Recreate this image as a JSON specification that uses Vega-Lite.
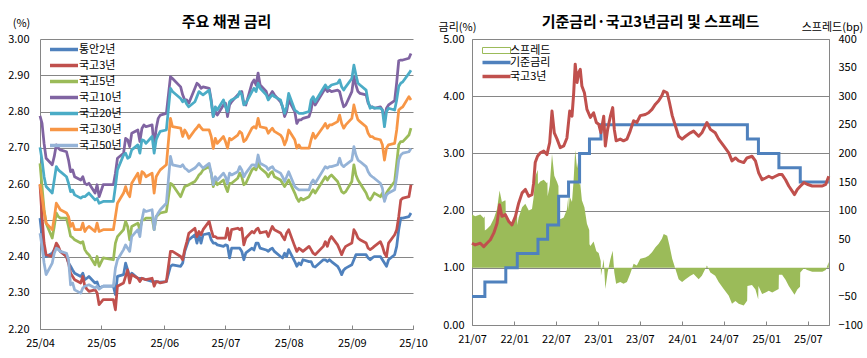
{
"$schema":"https://vega.github.io/schema/vega-lite/v6.json",
"background":"white",
"padding":{"left":7,"top":14,"right":1,"bottom":1},
"spacing":9,
"config":{
 "font":"Noto Sans CJK KR",
 "view":{"stroke":null},
 "axis":{"labelFont":"Noto Sans CJK KR","labelFontSize":11,"labelColor":"#000","domainColor":"#868686","gridColor":"#868686","tickColor":"#868686","titleFont":"Noto Sans CJK KR","titleFontSize":11,"titleFontWeight":"normal","titleColor":"#000"},
 "title":{"font":"Noto Sans CJK KR","fontSize":15,"fontWeight":"bold","color":"#000","anchor":"middle","frame":"group"},
 "legend":{"labelFont":"Noto Sans CJK KR","labelFontSize":11,"labelColor":"#000"}
},
"datasets":{
"rates":[
{"d":"2025-04-01","통안2년":2.506,"국고3년":2.598,"국고5년":2.657,"국고10년":2.788,"국고20년":2.701,"국고30년":2.600,"국고50년":2.464},
{"d":"2025-04-02","통안2년":2.455,"국고3년":2.51,"국고5년":2.593,"국고10년":2.767,"국고20년":2.666,"국고30년":2.565,"국고50년":2.428},
{"d":"2025-04-03","통안2년":2.419,"국고3년":2.437,"국고5년":2.529,"국고10년":2.712,"국고20년":2.62,"국고30년":2.524,"국고50년":2.382},
{"d":"2025-04-04","통안2년":2.40,"국고3년":2.405,"국고5년":2.492,"국고10년":2.671,"국고20년":2.593,"국고30년":2.492,"국고50년":2.35},
{"d":"2025-04-07","통안2년":2.409,"국고3년":2.40,"국고5년":2.451,"국고10년":2.653,"국고20년":2.575,"국고30년":2.474,"국고50년":2.382},
{"d":"2025-04-08","통안2년":2.419,"국고3년":2.419,"국고5년":2.483,"국고10년":2.676,"국고20년":2.611,"국고30년":2.506,"국고50년":2.409},
{"d":"2025-04-09","통안2년":2.428,"국고3년":2.437,"국고5년":2.52,"국고10년":2.708,"국고20년":2.648,"국고30년":2.547,"국고50년":2.423},
{"d":"2025-04-10","통안2년":2.42,"국고3년":2.428,"국고5년":2.51,"국고10년":2.699,"국고20년":2.639,"국고30년":2.538,"국고50년":2.42},
{"d":"2025-04-11","통안2년":2.414,"국고3년":2.414,"국고5년":2.506,"국고10년":2.694,"국고20년":2.634,"국고30년":2.529,"국고50년":2.414},
{"d":"2025-04-14","통안2년":2.40,"국고3년":2.40,"국고5년":2.506,"국고10년":2.689,"국고20년":2.62,"국고30년":2.52,"국고50년":2.409},
{"d":"2025-04-15","통안2년":2.382,"국고3년":2.382,"국고5년":2.483,"국고10년":2.666,"국고20년":2.602,"국고30년":2.51,"국고50년":2.391},
{"d":"2025-04-16","통안2년":2.373,"국고3년":2.354,"국고5년":2.456,"국고10년":2.634,"국고20년":2.579,"국고30년":2.483,"국고50년":2.322},
{"d":"2025-04-17","통안2년":2.363,"국고3년":2.345,"국고5년":2.452,"국고10년":2.639,"국고20년":2.583,"국고30년":2.492,"국고50년":2.327},
{"d":"2025-04-18","통안2년":2.354,"국고3년":2.336,"국고5년":2.446,"국고10년":2.62,"국고20년":2.57,"국고30년":2.474,"국고50년":2.308},
{"d":"2025-04-21","통안2년":2.345,"국고3년":2.327,"국고5년":2.437,"국고10년":2.611,"국고20년":2.561,"국고30년":2.474,"국고50년":2.299},
{"d":"2025-04-22","통안2년":2.354,"국고3년":2.345,"국고5년":2.441,"국고10년":2.62,"국고20년":2.565,"국고30년":2.492,"국고50년":2.313},
{"d":"2025-04-23","통안2년":2.336,"국고3년":2.318,"국고5년":2.419,"국고10년":2.602,"국고20년":2.565,"국고30년":2.469,"국고50년":2.318},
{"d":"2025-04-24","통안2년":2.34,"국고3년":2.31,"국고5년":2.41,"국고10년":2.598,"국고20년":2.57,"국고30년":2.478,"국고50년":2.32},
{"d":"2025-04-25","통안2년":2.345,"국고3년":2.304,"국고5년":2.405,"국고10년":2.602,"국고20년":2.575,"국고30년":2.483,"국고50년":2.322},
{"d":"2025-04-28","통안2년":2.327,"국고3년":2.308,"국고5년":2.377,"국고10년":2.575,"국고20년":2.556,"국고30년":2.469,"국고50년":2.313},
{"d":"2025-04-29","통안2년":2.33,"국고3년":2.30,"국고5년":2.40,"국고10년":2.598,"국고20년":2.56,"국고30년":2.492,"국고50년":2.318},
{"d":"2025-04-30","통안2년":2.313,"국고3년":2.267,"국고5년":2.373,"국고10년":2.565,"국고20년":2.547,"국고30년":2.469,"국고50년":2.31},
{"d":"2025-05-02","통안2년":2.318,"국고3년":2.281,"국고5년":2.396,"국고10년":2.598,"국고20년":2.552,"국고30년":2.474,"국고50년":2.318},
{"d":"2025-05-07","통안2년":2.318,"국고3년":2.281,"국고5년":2.391,"국고10년":2.598,"국고20년":2.552,"국고30년":2.474,"국고50년":2.318},
{"d":"2025-05-08","통안2년":2.295,"국고3년":2.253,"국고5년":2.437,"국고10년":2.63,"국고20년":2.593,"국고30년":2.51,"국고50년":2.368},
{"d":"2025-05-09","통안2년":2.345,"국고3년":2.318,"국고5년":2.455,"국고10년":2.671,"국고20년":2.639,"국고30년":2.547,"국고50년":2.391},
{"d":"2025-05-12","통안2년":2.35,"국고3년":2.327,"국고5년":2.474,"국고10년":2.685,"국고20년":2.68,"국고30년":2.575,"국고50년":2.419},
{"d":"2025-05-13","통안2년":2.382,"국고3년":2.345,"국고5년":2.497,"국고10년":2.726,"국고20년":2.685,"국고30년":2.593,"국고50년":2.432},
{"d":"2025-05-14","통안2년":2.363,"국고3년":2.363,"국고5년":2.483,"국고10년":2.722,"국고20년":2.671,"국고30년":2.575,"국고50년":2.423},
{"d":"2025-05-15","통안2년":2.345,"국고3년":2.327,"국고5년":2.446,"국고10년":2.703,"국고20년":2.675,"국고30년":2.565,"국고50년":2.414},
{"d":"2025-05-16","통안2년":2.354,"국고3년":2.35,"국고5년":2.483,"국고10년":2.74,"국고20년":2.694,"국고30년":2.602,"국고50년":2.455},
{"d":"2025-05-19","통안2년":2.34,"국고3년":2.34,"국고5년":2.492,"국고10년":2.749,"국고20년":2.708,"국고30년":2.63,"국고50년":2.474},
{"d":"2025-05-20","통안2년":2.34,"국고3년":2.331,"국고5년":2.474,"국고10년":2.717,"국고20년":2.685,"국고30년":2.602,"국고50년":2.455},
{"d":"2025-05-21","통안2년":2.34,"국고3년":2.34,"국고5년":2.501,"국고10년":2.753,"국고20년":2.722,"국고30년":2.634,"국고50년":2.501},
{"d":"2025-05-22","통안2년":2.338,"국고3년":2.338,"국고5년":2.501,"국고10년":2.763,"국고20년":2.72,"국고30년":2.63,"국고50년":2.529},
{"d":"2025-05-23","통안2년":2.336,"국고3년":2.336,"국고5년":2.506,"국고10년":2.758,"국고20년":2.712,"국고30년":2.62,"국고50년":2.524},
{"d":"2025-05-26","통안2년":2.331,"국고3년":2.34,"국고5년":2.506,"국고10년":2.763,"국고20년":2.731,"국고30년":2.63,"국고50년":2.529},
{"d":"2025-05-27","통안2년":2.331,"국고3년":2.318,"국고5년":2.474,"국고10년":2.703,"국고20년":2.685,"국고30년":2.575,"국고50년":2.474},
{"d":"2025-05-28","통안2년":2.331,"국고3년":2.331,"국고5년":2.51,"국고10년":2.753,"국고20년":2.722,"국고30년":2.62,"국고50년":2.51},
{"d":"2025-05-29","통안2년":2.33,"국고3년":2.33,"국고5년":2.515,"국고10년":2.781,"국고20년":2.735,"국고30년":2.63,"국고50년":2.52},
{"d":"2025-05-30","통안2년":2.329,"국고3년":2.327,"국고5년":2.52,"국고10년":2.79,"국고20년":2.745,"국고30년":2.639,"국고50년":2.529},
{"d":"2025-06-02","통안2년":2.331,"국고3년":2.331,"국고5년":2.524,"국고10년":2.795,"국고20년":2.749,"국고30년":2.653,"국고50년":2.547},
{"d":"2025-06-04","통안2년":2.373,"국고3년":2.414,"국고5년":2.602,"국고10년":2.896,"국고20년":2.864,"국고30년":2.781,"국고50년":2.676},
{"d":"2025-06-05","통안2년":2.377,"국고3년":2.414,"국고5년":2.598,"국고10년":2.891,"국고20년":2.855,"국고30년":2.758,"국고50년":2.653},
{"d":"2025-06-09","통안2년":2.373,"국고3년":2.40,"국고5년":2.565,"국고10년":2.868,"국고20년":2.836,"국고30년":2.754,"국고50년":2.648},
{"d":"2025-06-10","통안2년":2.382,"국고3년":2.391,"국고5년":2.579,"국고10년":2.846,"국고20년":2.827,"국고30년":2.731,"국고50년":2.653},
{"d":"2025-06-11","통안2년":2.414,"국고3년":2.419,"국고5년":2.593,"국고10년":2.832,"국고20년":2.832,"국고30년":2.749,"국고50년":2.644},
{"d":"2025-06-12","통안2년":2.43,"국고3년":2.44,"국고5년":2.595,"국고10년":2.832,"국고20년":2.82,"국고30년":2.74,"국고50년":2.64},
{"d":"2025-06-13","통안2년":2.446,"국고3년":2.464,"국고5년":2.598,"국고10년":2.823,"국고20년":2.813,"국고30년":2.726,"국고50년":2.634},
{"d":"2025-06-16","통안2년":2.46,"국고3년":2.478,"국고5년":2.607,"국고10년":2.864,"국고20년":2.827,"국고30년":2.749,"국고50년":2.644},
{"d":"2025-06-17","통안2년":2.437,"국고3년":2.455,"국고5년":2.615,"국고10년":2.878,"국고20년":2.841,"국고30년":2.755,"국고50년":2.65},
{"d":"2025-06-18","통안2년":2.46,"국고3년":2.469,"국고5년":2.625,"국고10년":2.873,"국고20년":2.855,"국고30년":2.763,"국고50년":2.657},
{"d":"2025-06-19","통안2년":2.437,"국고3년":2.46,"국고5년":2.63,"국고10년":2.864,"국고20년":2.85,"국고30년":2.755,"국고50년":2.65},
{"d":"2025-06-20","통안2년":2.46,"국고3년":2.474,"국고5년":2.639,"국고10년":2.868,"국고20년":2.846,"국고30년":2.749,"국고50년":2.644},
{"d":"2025-06-23","통안2년":2.464,"국고3년":2.497,"국고5년":2.648,"국고10년":2.864,"국고20년":2.859,"국고30년":2.749,"국고50년":2.657},
{"d":"2025-06-24","통안2년":2.446,"국고3년":2.474,"국고5년":2.63,"국고10년":2.832,"국고20년":2.827,"국고30년":2.731,"국고50년":2.63},
{"d":"2025-06-25","통안2년":2.437,"국고3년":2.455,"국고5년":2.593,"국고10년":2.786,"국고20년":2.786,"국고30년":2.698,"국고50년":2.598},
{"d":"2025-06-26","통안2년":2.437,"국고3년":2.455,"국고5년":2.611,"국고10년":2.80,"국고20년":2.813,"국고30년":2.726,"국고50년":2.62},
{"d":"2025-06-27","통안2년":2.432,"국고3년":2.451,"국고5년":2.598,"국고10년":2.79,"국고20년":2.804,"국고30년":2.712,"국고50년":2.611},
{"d":"2025-06-30","통안2년":2.428,"국고3년":2.451,"국고5년":2.611,"국고10년":2.818,"국고20년":2.832,"국고30년":2.731,"국고50년":2.63},
{"d":"2025-07-01","통안2년":2.432,"국고3년":2.451,"국고5년":2.593,"국고10년":2.823,"국고20년":2.813,"국고30년":2.717,"국고50년":2.62},
{"d":"2025-07-02","통안2년":2.43,"국고3년":2.478,"국고5년":2.579,"국고10년":2.786,"국고20년":2.80,"국고30년":2.699,"국고50년":2.602},
{"d":"2025-07-03","통안2년":2.396,"국고3년":2.446,"국고5년":2.602,"국고10년":2.818,"국고20년":2.827,"국고30년":2.726,"국고50년":2.63},
{"d":"2025-07-04","통안2년":2.423,"국고3년":2.474,"국고5년":2.602,"국고10년":2.827,"국고20년":2.832,"국고30년":2.722,"국고50년":2.625},
{"d":"2025-07-07","통안2년":2.423,"국고3년":2.478,"국고5년":2.616,"국고10년":2.846,"국고20년":2.841,"국고30년":2.735,"국고50년":2.634},
{"d":"2025-07-08","통안2년":2.423,"국고3년":2.474,"국고5년":2.63,"국고10년":2.85,"국고20년":2.855,"국고30년":2.745,"국고50년":2.648},
{"d":"2025-07-09","통안2년":2.414,"국고3년":2.478,"국고5년":2.62,"국고10년":2.855,"국고20년":2.846,"국고30년":2.74,"국고50년":2.639},
{"d":"2025-07-10","통안2년":2.391,"국고3년":2.432,"국고5년":2.598,"국고10년":2.823,"국고20년":2.818,"국고30년":2.717,"국고50년":2.62},
{"d":"2025-07-11","통안2년":2.41,"국고3년":2.451,"국고5년":2.602,"국고10년":2.818,"국고20년":2.823,"국고30년":2.722,"국고50년":2.63},
{"d":"2025-07-14","통안2년":2.423,"국고3년":2.469,"국고5년":2.639,"국고10년":2.878,"국고20년":2.855,"국고30년":2.754,"국고50년":2.653},
{"d":"2025-07-15","통안2년":2.418,"국고3년":2.465,"국고5년":2.644,"국고10년":2.887,"국고20년":2.864,"국고30년":2.758,"국고50년":2.653},
{"d":"2025-07-16","통안2년":2.437,"국고3년":2.474,"국고5년":2.639,"국고10년":2.873,"국고20년":2.855,"국고30년":2.754,"국고50년":2.648},
{"d":"2025-07-17","통안2년":2.437,"국고3년":2.478,"국고5년":2.657,"국고10년":2.906,"국고20년":2.878,"국고30년":2.781,"국고50년":2.68},
{"d":"2025-07-18","통안2년":2.423,"국고3년":2.465,"국고5년":2.644,"국고10년":2.873,"국고20년":2.864,"국고30년":2.758,"국고50년":2.657},
{"d":"2025-07-21","통안2년":2.418,"국고3년":2.469,"국고5년":2.63,"국고10년":2.855,"국고20년":2.846,"국고30년":2.754,"국고50년":2.648},
{"d":"2025-07-22","통안2년":2.414,"국고3년":2.455,"국고5년":2.62,"국고10년":2.836,"국고20년":2.832,"국고30년":2.74,"국고50년":2.639},
{"d":"2025-07-23","통안2년":2.42,"국고3년":2.47,"국고5년":2.63,"국고10년":2.846,"국고20년":2.84,"국고30년":2.748,"국고50년":2.645},
{"d":"2025-07-24","통안2년":2.423,"국고3년":2.483,"국고5년":2.634,"국고10년":2.855,"국고20년":2.846,"국고30년":2.754,"국고50년":2.648},
{"d":"2025-07-25","통안2년":2.414,"국고3년":2.474,"국고5년":2.62,"국고10년":2.846,"국고20년":2.841,"국고30년":2.745,"국고50년":2.639},
{"d":"2025-07-28","통안2년":2.40,"국고3년":2.465,"국고5년":2.611,"국고10년":2.827,"국고20년":2.832,"국고30년":2.735,"국고50년":2.63},
{"d":"2025-07-29","통안2년":2.396,"국고3년":2.455,"국고5년":2.602,"국고10년":2.813,"국고20년":2.813,"국고30년":2.726,"국고50년":2.62},
{"d":"2025-07-30","통안2년":2.409,"국고3년":2.446,"국고5년":2.593,"국고10년":2.786,"국고20년":2.795,"국고30년":2.708,"국고50년":2.607},
{"d":"2025-07-31","통안2년":2.40,"국고3년":2.465,"국고5년":2.602,"국고10년":2.80,"국고20년":2.813,"국고30년":2.722,"국고50년":2.62},
{"d":"2025-08-01","통안2년":2.419,"국고3년":2.474,"국고5년":2.611,"국고10년":2.832,"국고20년":2.85,"국고30년":2.749,"국고50년":2.634},
{"d":"2025-08-04","통안2년":2.386,"국고3년":2.428,"국고5년":2.575,"국고10년":2.80,"국고20년":2.804,"국고30년":2.722,"국고50년":2.593},
{"d":"2025-08-05","통안2년":2.373,"국고3년":2.414,"국고5년":2.561,"국고10년":2.767,"국고20년":2.80,"국고30년":2.699,"국고50년":2.588},
{"d":"2025-08-06","통안2년":2.382,"국고3년":2.423,"국고5년":2.552,"국고10년":2.777,"국고20년":2.795,"국고30년":2.708,"국고50년":2.584},
{"d":"2025-08-07","통안2년":2.377,"국고3년":2.419,"국고5년":2.561,"국고10년":2.777,"국고20년":2.795,"국고30년":2.699,"국고50년":2.584},
{"d":"2025-08-08","통안2년":2.391,"국고3년":2.414,"국고5년":2.556,"국고10년":2.781,"국고20년":2.795,"국고30년":2.699,"국고50년":2.584},
{"d":"2025-08-11","통안2년":2.386,"국고3년":2.428,"국고5년":2.565,"국고10년":2.786,"국고20년":2.80,"국고30년":2.699,"국고50년":2.584},
{"d":"2025-08-12","통안2년":2.386,"국고3년":2.419,"국고5년":2.575,"국고10년":2.804,"국고20년":2.832,"국고30년":2.722,"국고50년":2.602},
{"d":"2025-08-13","통안2년":2.373,"국고3년":2.409,"국고5년":2.584,"국고10년":2.836,"국고20년":2.841,"국고30년":2.74,"국고50년":2.611},
{"d":"2025-08-14","통안2년":2.371,"국고3년":2.405,"국고5년":2.575,"국고10년":2.818,"국고20년":2.827,"국고30년":2.726,"국고50년":2.602},
{"d":"2025-08-18","통안2년":2.391,"국고3년":2.428,"국고5년":2.611,"국고10년":2.855,"국고20년":2.864,"국고30년":2.758,"국고50년":2.639},
{"d":"2025-08-19","통안2년":2.391,"국고3년":2.441,"국고5년":2.62,"국고10년":2.864,"국고20년":2.873,"국고30년":2.767,"국고50년":2.648},
{"d":"2025-08-20","통안2년":2.386,"국고3년":2.428,"국고5년":2.611,"국고10년":2.855,"국고20년":2.864,"국고30년":2.754,"국고50년":2.644},
{"d":"2025-08-21","통안2년":2.391,"국고3년":2.446,"국고5년":2.62,"국고10년":2.859,"국고20년":2.868,"국고30년":2.763,"국고50년":2.648},
{"d":"2025-08-22","통안2년":2.386,"국고3년":2.455,"국고5년":2.625,"국고10년":2.855,"국고20년":2.873,"국고30년":2.763,"국고50년":2.648},
{"d":"2025-08-25","통안2년":2.373,"국고3년":2.432,"국고5년":2.607,"국고10년":2.859,"국고20년":2.878,"국고30년":2.772,"국고50년":2.653},
{"d":"2025-08-26","통안2년":2.363,"국고3년":2.419,"국고5년":2.593,"국고10년":2.855,"국고20년":2.887,"국고30년":2.79,"국고50년":2.671},
{"d":"2025-08-27","통안2년":2.35,"국고3년":2.405,"국고5년":2.579,"국고10년":2.832,"국고20년":2.868,"국고30년":2.767,"국고50년":2.653},
{"d":"2025-08-28","통안2년":2.363,"국고3년":2.419,"국고5년":2.575,"국고10년":2.813,"국고20년":2.859,"국고30년":2.754,"국고50년":2.648},
{"d":"2025-08-29","통안2년":2.368,"국고3년":2.428,"국고5년":2.579,"국고10년":2.818,"국고20년":2.868,"국고30년":2.763,"국고50년":2.653},
{"d":"2025-09-01","통안2년":2.377,"국고3년":2.437,"국고5년":2.607,"국고10년":2.855,"국고20년":2.891,"국고30년":2.781,"국고50년":2.666},
{"d":"2025-09-02","통안2년":2.391,"국고3년":2.474,"국고5년":2.653,"국고10년":2.896,"국고20년":2.928,"국고30년":2.818,"국고50년":2.703},
{"d":"2025-09-03","통안2년":2.405,"국고3년":2.465,"국고5년":2.625,"국고10년":2.873,"국고20년":2.901,"국고30년":2.795,"국고50년":2.68},
{"d":"2025-09-04","통안2년":2.405,"국고3년":2.451,"국고5년":2.611,"국고10년":2.855,"국고20년":2.878,"국고30년":2.777,"국고50년":2.666},
{"d":"2025-09-05","통안2년":2.405,"국고3년":2.446,"국고5년":2.602,"국고10년":2.85,"국고20년":2.873,"국고30년":2.772,"국고50년":2.662},
{"d":"2025-09-08","통안2년":2.405,"국고3년":2.437,"국고5년":2.575,"국고10년":2.846,"국고20년":2.859,"국고30년":2.758,"국고50년":2.648},
{"d":"2025-09-09","통안2년":2.396,"국고3년":2.423,"국고5년":2.561,"국고10년":2.823,"국고20년":2.827,"국고30년":2.74,"국고50년":2.634},
{"d":"2025-09-10","통안2년":2.391,"국고3년":2.419,"국고5년":2.556,"국고10년":2.813,"국고20년":2.809,"국고30년":2.731,"국고50년":2.625},
{"d":"2025-09-11","통안2년":2.396,"국고3년":2.423,"국고5년":2.565,"국고10년":2.813,"국고20년":2.813,"국고30년":2.731,"국고50년":2.62},
{"d":"2025-09-12","통안2년":2.40,"국고3년":2.428,"국고5년":2.575,"국고10년":2.809,"국고20년":2.809,"국고30년":2.726,"국고50년":2.616},
{"d":"2025-09-15","통안2년":2.40,"국고3년":2.441,"국고5년":2.565,"국고10년":2.813,"국고20년":2.809,"국고30년":2.722,"국고50년":2.602},
{"d":"2025-09-16","통안2년":2.391,"국고3년":2.428,"국고5년":2.575,"국고10년":2.804,"국고20년":2.804,"국고30년":2.708,"국고50년":2.588},
{"d":"2025-09-17","통안2년":2.382,"국고3년":2.409,"국고5년":2.556,"국고10년":2.781,"국고20년":2.758,"국고30년":2.666,"국고50년":2.552},
{"d":"2025-09-18","통안2년":2.373,"국고3년":2.40,"국고5년":2.575,"국고10년":2.809,"국고20년":2.80,"국고30년":2.699,"국고50년":2.57},
{"d":"2025-09-19","통안2년":2.391,"국고3년":2.437,"국고5년":2.584,"국고10년":2.818,"국고20년":2.809,"국고30년":2.708,"국고50년":2.575},
{"d":"2025-09-22","통안2년":2.405,"국고3년":2.46,"국고5년":2.607,"국고10년":2.83,"국고20년":2.804,"국고30년":2.712,"국고50년":2.584},
{"d":"2025-09-23","통안2년":2.428,"국고3년":2.474,"국고5년":2.657,"국고10년":2.88,"국고20년":2.832,"국고30년":2.749,"국고50년":2.62},
{"d":"2025-09-24","통안2년":2.474,"국고3년":2.51,"국고5년":2.708,"국고10년":2.94,"국고20년":2.869,"국고30년":2.804,"국고50년":2.666},
{"d":"2025-09-25","통안2년":2.506,"국고3년":2.556,"국고5년":2.717,"국고10년":2.942,"국고20년":2.878,"국고30년":2.809,"국고50년":2.68},
{"d":"2025-09-26","통안2년":2.506,"국고3년":2.561,"국고5년":2.717,"국고10년":2.942,"국고20년":2.882,"국고30년":2.813,"국고50년":2.685},
{"d":"2025-09-29","통안2년":2.51,"국고3년":2.565,"국고5년":2.735,"국고10년":2.947,"국고20년":2.905,"국고30년":2.841,"국고50년":2.689},
{"d":"2025-09-30","통안2년":2.52,"국고3년":2.598,"국고5년":2.754,"국고10년":2.96,"국고20년":2.914,"국고30년":2.832,"국고50년":2.698}
],
"ktb3":[
{"d":"2021-07-01","v":1.43},{"d":"2021-07-15","v":1.40},{"d":"2021-08-06","v":1.43},{"d":"2021-08-21","v":1.37},{"d":"2021-09-04","v":1.43},{"d":"2021-09-19","v":1.49},{"d":"2021-10-04","v":1.61},{"d":"2021-10-18","v":1.78},{"d":"2021-10-29","v":2.10},{"d":"2021-11-08","v":1.90},{"d":"2021-11-23","v":1.93},{"d":"2021-12-08","v":1.81},{"d":"2021-12-22","v":1.75},
{"d":"2022-01-06","v":1.90},{"d":"2022-01-20","v":2.13},{"d":"2022-02-04","v":2.31},{"d":"2022-02-18","v":2.37},{"d":"2022-03-05","v":2.25},{"d":"2022-03-19","v":2.28},{"d":"2022-03-26","v":2.48},{"d":"2022-04-02","v":2.84},{"d":"2022-04-12","v":2.95},{"d":"2022-04-24","v":3.01},{"d":"2022-05-09","v":3.04},{"d":"2022-05-23","v":2.98},{"d":"2022-06-04","v":3.19},{"d":"2022-06-14","v":3.74},{"d":"2022-06-24","v":3.36},{"d":"2022-07-06","v":3.25},{"d":"2022-07-20","v":3.10},{"d":"2022-08-04","v":3.13},{"d":"2022-08-18","v":3.27},{"d":"2022-08-30","v":3.74},{"d":"2022-09-09","v":3.65},{"d":"2022-09-16","v":4.03},{"d":"2022-09-23","v":4.56},{"d":"2022-10-01","v":4.24},{"d":"2022-10-08","v":4.41},{"d":"2022-10-15","v":4.47},{"d":"2022-10-22","v":4.18},{"d":"2022-11-02","v":4.06},{"d":"2022-11-13","v":3.77},{"d":"2022-11-28","v":3.63},{"d":"2022-12-12","v":3.71},{"d":"2022-12-24","v":3.54},
{"d":"2023-01-03","v":3.51},{"d":"2023-01-13","v":3.36},{"d":"2023-01-25","v":3.65},{"d":"2023-02-01","v":3.13},{"d":"2023-02-11","v":3.42},{"d":"2023-02-23","v":3.65},{"d":"2023-03-05","v":3.80},{"d":"2023-03-12","v":3.42},{"d":"2023-03-20","v":3.22},{"d":"2023-04-07","v":3.25},{"d":"2023-04-21","v":3.22},{"d":"2023-05-06","v":3.25},{"d":"2023-05-20","v":3.39},{"d":"2023-06-04","v":3.57},{"d":"2023-06-18","v":3.54},{"d":"2023-07-03","v":3.66},{"d":"2023-07-25","v":3.68},{"d":"2023-08-08","v":3.71},{"d":"2023-08-23","v":3.77},{"d":"2023-09-07","v":3.86},{"d":"2023-09-21","v":3.92},{"d":"2023-10-05","v":4.01},{"d":"2023-10-13","v":4.09},{"d":"2023-10-28","v":4.06},{"d":"2023-11-07","v":3.89},{"d":"2023-11-19","v":3.66},{"d":"2023-12-03","v":3.48},{"d":"2023-12-17","v":3.30},
{"d":"2024-01-01","v":3.25},{"d":"2024-01-16","v":3.30},{"d":"2024-02-06","v":3.36},{"d":"2024-02-20","v":3.39},{"d":"2024-03-13","v":3.30},{"d":"2024-03-27","v":3.36},{"d":"2024-04-18","v":3.54},{"d":"2024-05-03","v":3.42},{"d":"2024-05-24","v":3.36},{"d":"2024-06-08","v":3.25},{"d":"2024-06-30","v":3.13},{"d":"2024-07-22","v":3.01},{"d":"2024-08-05","v":2.87},{"d":"2024-08-20","v":2.92},{"d":"2024-09-03","v":2.87},{"d":"2024-09-25","v":2.84},{"d":"2024-10-09","v":2.92},{"d":"2024-10-31","v":2.95},{"d":"2024-11-15","v":2.87},{"d":"2024-11-29","v":2.66},{"d":"2024-12-14","v":2.54},{"d":"2024-12-29","v":2.57},
{"d":"2025-01-12","v":2.60},{"d":"2025-01-27","v":2.57},{"d":"2025-02-10","v":2.60},{"d":"2025-02-25","v":2.63},{"d":"2025-03-11","v":2.63},{"d":"2025-03-26","v":2.54},{"d":"2025-04-09","v":2.43},{"d":"2025-04-24","v":2.34},{"d":"2025-05-04","v":2.28},{"d":"2025-05-16","v":2.37},{"d":"2025-05-30","v":2.43},{"d":"2025-06-14","v":2.49},{"d":"2025-06-28","v":2.46},{"d":"2025-07-20","v":2.43},{"d":"2025-08-11","v":2.43},{"d":"2025-09-02","v":2.43},{"d":"2025-09-17","v":2.46},{"d":"2025-09-30","v":2.60}
],
"base":[
{"d":"2021-07-01","v":0.50},{"d":"2021-08-26","v":0.75},{"d":"2021-11-25","v":1.00},{"d":"2022-01-14","v":1.25},{"d":"2022-04-14","v":1.50},{"d":"2022-05-26","v":1.75},{"d":"2022-07-13","v":2.25},{"d":"2022-08-25","v":2.50},{"d":"2022-10-12","v":3.00},{"d":"2022-11-24","v":3.25},{"d":"2023-01-13","v":3.50},{"d":"2024-10-11","v":3.25},{"d":"2024-11-28","v":3.00},{"d":"2025-02-25","v":2.75},{"d":"2025-05-29","v":2.50},{"d":"2025-09-30","v":2.50}
],
"spread":[
{"d":"2021-07-01","v":93},{"d":"2021-07-15","v":90},{"d":"2021-08-06","v":93},{"d":"2021-08-21","v":87},{"d":"2021-08-25","v":90},{"d":"2021-08-26","v":65},{"d":"2021-09-04","v":68},{"d":"2021-09-19","v":74},{"d":"2021-10-04","v":86},{"d":"2021-10-18","v":103},{"d":"2021-10-29","v":135},{"d":"2021-11-08","v":115},{"d":"2021-11-23","v":118},{"d":"2021-11-24","v":116},{"d":"2021-11-25","v":91},{"d":"2021-12-08","v":81},{"d":"2021-12-22","v":75},
{"d":"2022-01-06","v":90},{"d":"2022-01-13","v":100},{"d":"2022-01-14","v":75},{"d":"2022-01-20","v":88},{"d":"2022-02-04","v":106},{"d":"2022-02-18","v":112},{"d":"2022-03-05","v":100},{"d":"2022-03-19","v":103},{"d":"2022-03-26","v":123},{"d":"2022-04-02","v":159},{"d":"2022-04-12","v":170},{"d":"2022-04-13","v":171},{"d":"2022-04-14","v":146},{"d":"2022-04-24","v":151},{"d":"2022-05-09","v":154},{"d":"2022-05-23","v":148},{"d":"2022-05-25","v":150},{"d":"2022-05-26","v":125},{"d":"2022-06-04","v":144},{"d":"2022-06-14","v":199},{"d":"2022-06-24","v":161},{"d":"2022-07-06","v":150},{"d":"2022-07-12","v":143},{"d":"2022-07-13","v":93},{"d":"2022-07-20","v":85},{"d":"2022-08-04","v":88},{"d":"2022-08-18","v":102},{"d":"2022-08-24","v":125},{"d":"2022-08-25","v":100},{"d":"2022-08-30","v":124},{"d":"2022-09-09","v":115},{"d":"2022-09-16","v":153},{"d":"2022-09-23","v":206},{"d":"2022-10-01","v":174},{"d":"2022-10-08","v":191},{"d":"2022-10-11","v":195},{"d":"2022-10-12","v":145},{"d":"2022-10-15","v":147},{"d":"2022-10-22","v":118},{"d":"2022-11-02","v":106},{"d":"2022-11-13","v":77},{"d":"2022-11-23","v":66},{"d":"2022-11-24","v":41},{"d":"2022-11-28","v":38},{"d":"2022-12-12","v":46},{"d":"2022-12-24","v":29},
{"d":"2023-01-03","v":26},{"d":"2023-01-12","v":12},{"d":"2023-01-13","v":-14},{"d":"2023-01-25","v":15},{"d":"2023-02-01","v":-37},{"d":"2023-02-11","v":-8},{"d":"2023-02-23","v":15},{"d":"2023-03-05","v":30},{"d":"2023-03-12","v":-8},{"d":"2023-03-20","v":-28},{"d":"2023-04-07","v":-25},{"d":"2023-04-21","v":-28},{"d":"2023-05-06","v":-25},{"d":"2023-05-20","v":-11},{"d":"2023-06-04","v":7},{"d":"2023-06-18","v":4},{"d":"2023-07-03","v":16},{"d":"2023-07-25","v":18},{"d":"2023-08-08","v":21},{"d":"2023-08-23","v":27},{"d":"2023-09-07","v":36},{"d":"2023-09-21","v":42},{"d":"2023-10-05","v":51},{"d":"2023-10-13","v":59},{"d":"2023-10-28","v":56},{"d":"2023-11-07","v":39},{"d":"2023-11-19","v":16},{"d":"2023-12-03","v":-2},{"d":"2023-12-17","v":-20},
{"d":"2024-01-01","v":-25},{"d":"2024-01-16","v":-20},{"d":"2024-02-06","v":-14},{"d":"2024-02-20","v":-11},{"d":"2024-03-13","v":-20},{"d":"2024-03-27","v":-14},{"d":"2024-04-18","v":4},{"d":"2024-05-03","v":-8},{"d":"2024-05-24","v":-14},{"d":"2024-06-08","v":-25},{"d":"2024-06-30","v":-37},{"d":"2024-07-22","v":-49},{"d":"2024-08-05","v":-63},{"d":"2024-08-20","v":-58},{"d":"2024-09-03","v":-63},{"d":"2024-09-25","v":-66},{"d":"2024-10-09","v":-58},{"d":"2024-10-10","v":-57},{"d":"2024-10-11","v":-32},{"d":"2024-10-31","v":-30},{"d":"2024-11-15","v":-38},{"d":"2024-11-27","v":-55},{"d":"2024-11-28","v":-32},{"d":"2024-12-14","v":-46},{"d":"2024-12-29","v":-43},
{"d":"2025-01-12","v":-40},{"d":"2025-01-27","v":-43},{"d":"2025-02-10","v":-40},{"d":"2025-02-24","v":-37},{"d":"2025-02-25","v":-12},{"d":"2025-03-11","v":-12},{"d":"2025-03-26","v":-21},{"d":"2025-04-09","v":-32},{"d":"2025-04-24","v":-41},{"d":"2025-05-04","v":-47},{"d":"2025-05-16","v":-38},{"d":"2025-05-28","v":-33},{"d":"2025-05-29","v":-8},{"d":"2025-06-14","v":-1},{"d":"2025-06-28","v":-4},{"d":"2025-07-20","v":-7},{"d":"2025-08-11","v":-7},{"d":"2025-09-02","v":-7},{"d":"2025-09-17","v":-4},{"d":"2025-09-30","v":10}
]
},
"hconcat":[
{
 "width":373,"height":290,
 "title":{"text":"주요 채권 금리","offset":-12.5},
 "data":{"name":"rates"},
 "transform":[{"fold":["통안2년","국고3년","국고5년","국고10년","국고20년","국고30년","국고50년"],"as":["k","v"]}],
 "mark":{"type":"line","strokeWidth":2.75,"strokeJoin":"round"},
 "encoding":{
  "x":{"field":"d","type":"temporal","scale":{"type":"utc","domain":[{"year":2025,"month":4,"date":1,"utc":true},{"year":2025,"month":10,"date":1,"utc":true}]},
   "axis":{"labelExpr":"utcFormat(datum.value, '%y/%m')","tickCount":{"interval":"month","step":1},"grid":false,"labelFlush":false,"labelPadding":12,"tickSize":-4,"title":null}},
  "y":{"field":"v","type":"quantitative","scale":{"domain":[2.2,3.0],"zero":false,"nice":false},
   "axis":{"values":[2.2,2.3,2.4,2.5,2.6,2.7,2.8,2.9,3.0],"format":".2f","ticks":false,"labelPadding":11,"title":"(%)","titleAngle":0,"titleX":-19,"titleY":-16,"titleAlign":"center","titleBaseline":"middle"}},
  "color":{"field":"k","type":"nominal","sort":["통안2년","국고3년","국고5년","국고10년","국고20년","국고30년","국고50년"],
   "scale":{"domain":["통안2년","국고3년","국고5년","국고10년","국고20년","국고30년","국고50년"],"range":["#4F81BD","#C0504D","#9BBB59","#8064A2","#4BACC6","#F79646","#95B3D7"]},
   "legend":{"title":null,"orient":"none","legendX":8,"legendY":1.5,"symbolType":"M-1,0L3,0","symbolSize":196,"symbolStrokeWidth":3.5,"symbolFillColor":"transparent","rowPadding":-5.5,"labelOffset":13}}
 }
},
{
 "width":357,"height":286,
 "title":{"text":"기준금리·국고3년금리 및 스프레드","offset":-8.5},
 "view":{"stroke":"#868686"},
 "layer":[
  {
   "data":{"name":"spread"},
   "mark":{"type":"area","interpolate":"linear"},
   "encoding":{
    "x":{"field":"d","type":"temporal","scale":{"type":"utc","domain":[{"year":2021,"month":7,"date":1,"utc":true},{"year":2025,"month":10,"date":1,"utc":true}]},
     "axis":{"labelExpr":"utcFormat(datum.value, '%y/%m')","tickCount":{"interval":"month","step":6},"grid":false,"domain":false,"labelFlush":false,"labelPadding":12,"tickSize":-4,"title":null}},
    "y":{"field":"v","type":"quantitative","scale":{"domain":[-100,400],"nice":false},
     "axis":{"orient":"right","values":[-100,-50,0,50,100,150,200,250,300,350,400],"format":"d","grid":false,"ticks":false,"domain":false,"labelPadding":9,"title":"스프레드(bp)","titleAngle":0,"titleX":3,"titleY":-12,"titleAlign":"center","titleBaseline":"middle"}},
    "color":{"datum":"스프레드","scale":{"domain":["스프레드","기준금리","국고3년"],"range":["#9BBB59","#4F81BD","#C0504D"]},
     "legend":{"title":null,"orient":"none","legendX":12,"legendY":6,"symbolType":"M-1,0L3,0","symbolSize":196,"symbolStrokeWidth":3.5,"rowPadding":-1,"labelOffset":15,
      "encode":{"symbols":{"update":{
        "shape":{"signal":"datum.value === '스프레드' ? 'M-1,-0.43L3,-0.43L3,0.43L-1,0.43Z' : 'M-1,0L3,0'"},
        "fillOpacity":{"signal":"datum.value === '스프레드' ? 0 : 0"},
        "stroke":{"signal":"datum.value === '스프레드' ? '#9BBB59' : (datum.value === '기준금리' ? '#4F81BD' : '#C0504D')"},
        "strokeWidth":{"signal":"datum.value === '스프레드' ? 1 : 3.5"}}}}}}
   }
  },
  {
   "layer":[
    {"data":{"name":"base"},"mark":{"type":"line","interpolate":"step-after","strokeWidth":3},
     "encoding":{"x":{"field":"d","type":"temporal"},"y":{"field":"v","type":"quantitative","scale":{"domain":[0,5],"nice":false},
      "axis":{"orient":"left","values":[0,0.5,1,1.5,2,2.5,3,3.5,4,4.5,5],"format":".2f","grid":true,"ticks":false,"domain":false,"labelPadding":8,"title":"금리(%)","titleAngle":0,"titleX":-15,"titleY":-12,"titleAlign":"center","titleBaseline":"middle"}},
      "color":{"datum":"기준금리"}}},
    {"data":{"name":"ktb3"},"mark":{"type":"line","strokeWidth":3,"strokeJoin":"round"},
     "encoding":{"x":{"field":"d","type":"temporal"},"y":{"field":"v","type":"quantitative"},"color":{"datum":"국고3년"}}}
   ]
  }
 ],
 "resolve":{"scale":{"y":"independent"}}
}
],
"resolve":{"scale":{"color":"independent"},"legend":{"color":"independent"}}
}
